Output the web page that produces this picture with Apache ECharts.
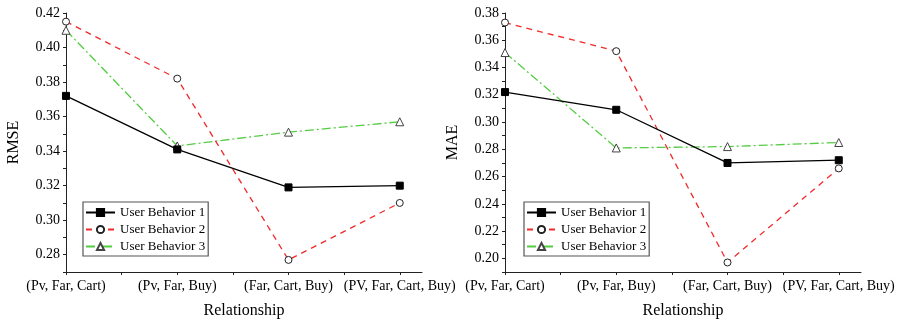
<!DOCTYPE html>
<html>
<head>
<meta charset="utf-8">
<script src="https://cdn.jsdelivr.net/npm/echarts@6/dist/echarts.min.js"></script>
<style>html,body{margin:0;padding:0;background:#fff}#c{width:902px;height:324px}</style>
</head>
<body>
<div id="c"></div>
<script>
const categories = ['(Pv, Far, Cart)', '(Pv, Far, Buy)', '(Far, Cart, Buy)', '(PV, Far, Cart, Buy)'];
const seriesNames = ['User Behavior 1', 'User Behavior 2', 'User Behavior 3'];
const rmse1 = [0.372, 0.341, 0.319, 0.320];
const rmse2 = [0.415, 0.382, 0.277, 0.310];
const rmse3 = [0.410, 0.343, 0.351, 0.357];
const mae1 = [0.322, 0.309, 0.270, 0.272];
const mae2 = [0.373, 0.352, 0.197, 0.266];
const mae3 = [0.351, 0.281, 0.282, 0.285];
const rmseTickLabels = [0.28, 0.30, 0.32, 0.34, 0.36, 0.38, 0.40, 0.42];
const maeTickLabels = [0.20, 0.22, 0.24, 0.26, 0.28, 0.30, 0.32, 0.34, 0.36, 0.38];
const rmseRange = [0.27, 0.42];
const maeRange = [0.19, 0.38];

const FONT = '"Liberation Serif", "DejaVu Serif", serif';
const AX = '#222';

function range(a, b, step) { const r = []; for (let v = a; v <= b + 1e-9; v += step) r.push(Math.round(v * 1000) / 1000); return r; }
function toPts(arr) { return arr.map((v, i) => [i, v]); }

function xAxisDef(gi) {
  return {
    type: 'value', gridIndex: gi, min: 0, max: 3.2,
    name: 'Relationship', nameLocation: 'middle', nameGap: 31,
    nameTextStyle: { fontFamily: FONT, fontSize: 16, color: '#000' },
    axisLine: { show: true, lineStyle: { color: AX, width: 1 } },
    axisTick: { show: true, inside: false, length: 3, lineStyle: { color: AX }, customValues: range(0, 3, 0.5) },
    axisLabel: { fontFamily: FONT, fontSize: 14, color: '#000', margin: 7,
      customValues: categories.map((c, i) => i), formatter: v => categories[Math.round(v)] || '' },
    splitLine: { show: false }
  };
}
function yAxisDef(gi, name, rng, labels) {
  return {
    type: 'value', gridIndex: gi, min: rng[0], max: rng[1],
    name: name, nameLocation: 'middle', nameGap: 44,
    nameTextStyle: { fontFamily: FONT, fontSize: 16, color: '#000' },
    axisLine: { show: true, lineStyle: { color: AX, width: 1 } },
    axisTick: { show: true, inside: false, length: 3, lineStyle: { color: AX }, customValues: range(rng[0], rng[1], 0.01) },
    axisLabel: { fontFamily: FONT, fontSize: 14, color: '#000', margin: 6,
      customValues: labels, formatter: v => v.toFixed(2) },
    splitLine: { show: false }
  };
}
const styles = [
  { color: '#000', type: 'solid', symbol: 'rect', size: 7, fill: '#000', border: '#000' },
  { color: '#f02a2a', type: [6, 5], symbol: 'circle', size: 7, fill: '#fff', border: '#222' },
  { color: '#55cc44', type: [9, 3, 2, 3], symbol: 'triangle', size: 8, fill: '#fff', border: '#444' }
];
function mkSeries(name, data, k, gi) {
  const s = styles[k];
  return {
    name: name, type: 'line', xAxisIndex: gi, yAxisIndex: gi,
    data: toPts(data), symbol: s.symbol, symbolSize: s.size, showSymbol: true,
    lineStyle: { color: s.color, width: 1.3, type: s.type },
    itemStyle: { color: s.fill, borderColor: s.border, borderWidth: 1 },
    z: 3 - k, animation: false
  };
}
function legendDef(left) {
  return {
    left: left, top: 202, orient: 'vertical', itemGap: 4, itemWidth: 29, itemHeight: 9,
    padding: [4, 3, 3, 2], borderColor: '#555', borderWidth: 1.2,
    textStyle: { fontFamily: FONT, fontSize: 13, color: '#000', padding: [0, 0, 0, 0] },
    data: seriesNames
  };
}

const chart = echarts.init(document.getElementById('c'), null, { renderer: 'canvas' });
chart.setOption({
  backgroundColor: '#fff',
  animation: false,
  grid: [
    { left: 66, right: 480, top: 13, bottom: 49 },
    { left: 505, right: 41, top: 13, bottom: 49 }
  ],
  xAxis: [xAxisDef(0), xAxisDef(1)],
  yAxis: [yAxisDef(0, 'RMSE', rmseRange, rmseTickLabels), yAxisDef(1, 'MAE', maeRange, maeTickLabels)],
  legend: [Object.assign(legendDef(83), { id: 'l0' }), Object.assign(legendDef(524), { id: 'l1' })],
  series: [
    mkSeries(seriesNames[0], rmse1, 0, 0),
    mkSeries(seriesNames[1], rmse2, 1, 0),
    mkSeries(seriesNames[2], rmse3, 2, 0),
    mkSeries(seriesNames[0], mae1, 0, 1),
    mkSeries(seriesNames[1], mae2, 1, 1),
    mkSeries(seriesNames[2], mae3, 2, 1)
  ]
});
</script>
</body>
</html>
